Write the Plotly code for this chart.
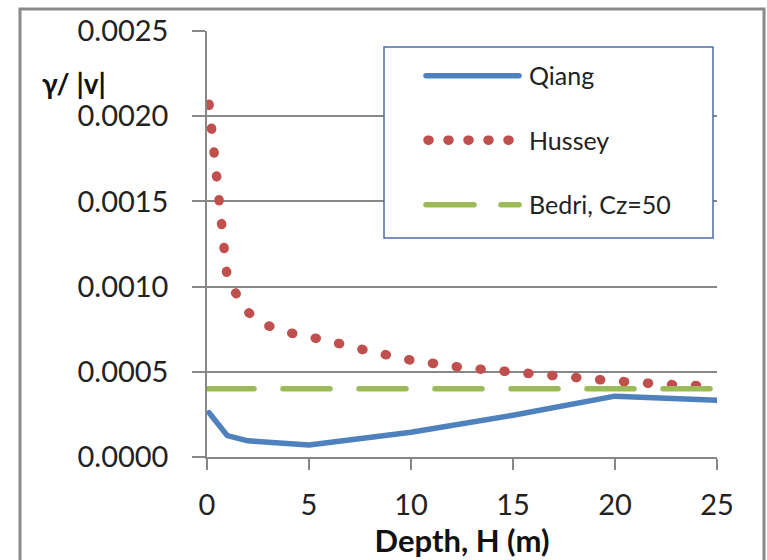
import plotly.graph_objects as go

# Data
qiang_depth = [0.1, 1, 2, 5, 10, 15, 20, 25]
qiang_val = [0.00026, 0.000125, 0.000095, 0.00007, 0.000145, 0.000245, 0.000357, 0.000333]

hussey_depth = [0.1, 0.5, 1, 2, 3, 4, 5, 6, 8, 10, 12.5, 15, 17.5, 20, 22.5, 25]
hussey_val = [0.00207, 0.00158, 0.00104, 0.00085, 0.00077, 0.00073, 0.00071, 0.00068,
              0.00062, 0.000568, 0.000525, 0.000495, 0.000465, 0.000446, 0.000426, 0.000415]

bedri_depth = [0, 25]
bedri_val = [0.0004, 0.0004]

x_ticks = [0, 5, 10, 15, 20, 25]
y_ticks = [0, 0.0005, 0.0010, 0.0015, 0.0020, 0.0025]

FONT = "Lato"
GRID = "#878787"
TXT = "#222222"

fig = go.Figure()
fig.add_trace(go.Scatter(x=qiang_depth, y=qiang_val, name="Qiang", mode="lines",
                         legendgroup="a",
                         line=dict(color="#4F81BD", width=5.5)))
fig.add_trace(go.Scatter(x=hussey_depth, y=hussey_val, name="Hussey", mode="lines",
                         legendgroup="b",
                         line=dict(color="#C0504D", width=9.5, dash="1px,23px")))
fig.add_trace(go.Scatter(x=bedri_depth, y=bedri_val, name="Bedri, Cz=50", mode="lines",
                         legendgroup="c",
                         line=dict(color="#9BBB59", width=5.5, dash="47px,29px")))

W, H = 767, 560
L, R, T, B = 207, 50, 29, 103
pw, ph = W - L - R, H - T - B

def px(xp):
    return (xp - L) / pw

def py(yp):
    return (H - B - yp) / ph

fig.update_layout(
    width=W, height=H,
    margin=dict(l=L, r=R, t=T, b=B),
    paper_bgcolor="white", plot_bgcolor="white",
    font=dict(family=FONT, color=TXT),
    showlegend=True,
    legend=dict(x=px(419), y=py(51), xanchor="left", yanchor="top",
                bgcolor="rgba(0,0,0,0)", borderwidth=0,
                font=dict(family=FONT, size=25, color=TXT),
                itemwidth=100, tracegroupgap=29),
    xaxis=dict(range=[0, 25], tickvals=x_ticks, showgrid=False, zeroline=False,
               showline=True, linecolor=GRID, linewidth=1.5,
               ticks="outside", ticklen=11, tickcolor=GRID, tickwidth=1.5,
               tickfont=dict(family=FONT, size=29, color=TXT),
               ticklabelstandoff=10,
               title=dict(text="<b>Depth, H (m)</b>", font=dict(family=FONT, size=31, color="#111111"),
                          standoff=2)),
    yaxis=dict(range=[0, 0.0025], tickvals=y_ticks, tickformat=".4f",
               showgrid=True, gridcolor=GRID, gridwidth=1.5, zeroline=False,
               showline=True, linecolor=GRID, linewidth=1.5,
               ticks="outside", ticklen=13, tickcolor=GRID, tickwidth=1.5,
               tickfont=dict(family=FONT, size=29, color=TXT),
               ticklabelstandoff=18),
    shapes=[
        dict(type="rect", xref="paper", yref="paper",
             x0=px(384), x1=px(713), y0=py(237), y1=py(45),
             line=dict(color="#4A6FA5", width=1.5), fillcolor="white", layer="above"),
        dict(type="rect", xref="paper", yref="paper",
             x0=px(20), x1=px(764), y0=py(580), y1=py(7),
             line=dict(color="#8A8A8A", width=3), fillcolor="rgba(0,0,0,0)", layer="above"),
    ],
    annotations=[
        dict(text="<b>γ/ |v|</b>", xref="paper", yref="paper", x=px(40), y=py(81),
             xanchor="left", yanchor="middle", showarrow=False,
             font=dict(family=FONT, size=28, color="#111111")),
    ],
)

post = """
var gd = document.getElementById('{plot_id}');
function fix(){
  gd.querySelectorAll('.scatterlayer .js-line').forEach(function(p){
    p.setAttribute('stroke-linecap','round'); p.style.strokeLinecap='round'; p.style.strokeLinejoin='round';
  });
  var specs = [['M7,0h93', null], ['M9,0h81', '1px,19px'], ['M7,0h93', '48px,27px']];
  gd.querySelectorAll('.legend .traces').forEach(function(tr, i){
    tr.querySelectorAll('.legendlines path').forEach(function(p){
      var s = specs[i] || specs[0];
      p.setAttribute('d', s[0]);
      p.style.strokeLinecap = 'round';
      if (s[1]) { p.style.strokeDasharray = s[1]; }
    });
  });
}
fix();
setTimeout(fix, 50);
gd.on('plotly_afterplot', fix);
"""

fig.write_html("out.html", post_script=post)
